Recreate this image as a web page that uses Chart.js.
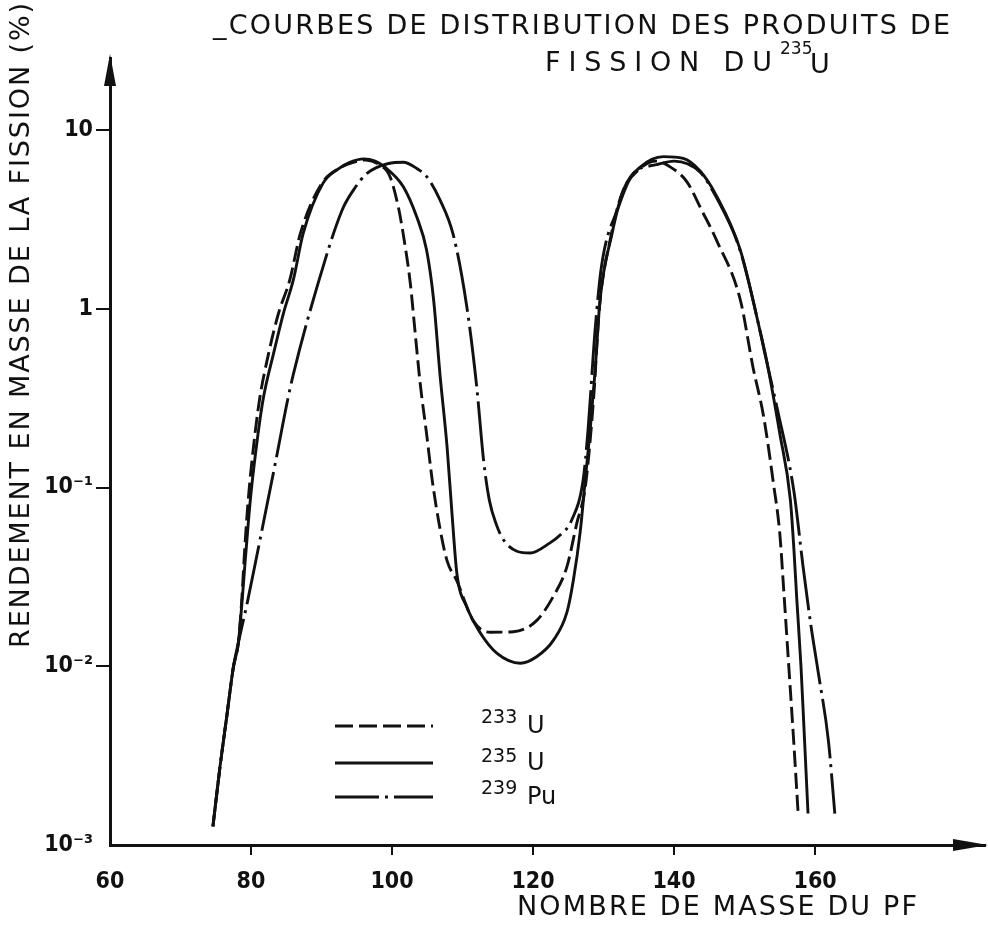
<!DOCTYPE html>
<html>
<head>
<meta charset="utf-8">
<script src="https://cdn.jsdelivr.net/npm/chart.js@4.4.1/dist/chart.umd.min.js"></script>
<style>
  html, body { margin: 0; padding: 0; background: #fff; }
  #wrap { width: 988px; height: 927px; }
</style>
</head>
<body>
<div id="wrap"><canvas id="chart" width="988" height="927"></canvas></div>
<script>
// axis ticks
const massTicks = [60, 80, 100, 120, 140, 160];
const yieldTicks = [0.001, 0.01, 0.1, 1, 10];
const yieldTickLabels = ['10⁻³', '10⁻²', '10⁻¹', '1', '10'];

// legend text
const seriesIsotopes = ['233', '235', '239'];
const seriesElements = ['U', 'U', 'Pu'];

// 233U (dashed)
const u233Mass = [74.6, 75.6, 76.55, 77.5, 78.2, 78.7, 79.1, 79.6, 80.3, 81.2, 82.5, 83.9, 85.5, 87.0, 90.0, 92.8, 94.5, 96.3, 98.2, 99.7,
  100.9, 101.6, 102.6, 103.3, 104.0, 104.9, 105.7, 106.7, 107.8, 109.2, 111.5, 113.9, 117.2, 120.5, 122.9, 124.8, 126.2, 127.4, 128.6, 129.4,
  131.0, 132.6, 135.0, 137.5, 139.5, 141.8, 143.9, 146.0, 149.4, 151.2, 152.7, 154.1, 155.0, 155.6, 156.2, 156.9, 157.6];
const u233Yield = [0.00127, 0.00274, 0.0052, 0.0099, 0.0135, 0.024, 0.045, 0.085, 0.162, 0.309, 0.563, 0.944, 1.45, 2.64, 5.0, 6.2, 6.6, 6.8, 6.4, 5.5,
  3.7, 2.6, 1.38, 0.72, 0.38, 0.20, 0.11, 0.062, 0.039, 0.030, 0.018, 0.0155, 0.0156, 0.018, 0.0247, 0.036, 0.063, 0.10, 0.32, 1.0,
  2.5, 4.4, 6.0, 6.7, 6.2, 5.15, 3.57, 2.43, 1.12, 0.47, 0.25, 0.105, 0.055, 0.025, 0.011, 0.0042, 0.0015];

// 235U (solid)
const u235Mass = [74.6, 75.6, 76.55, 77.5, 78.2, 79.3, 79.9, 80.7, 81.7, 83.2, 84.6, 86.0, 87.4, 90.2, 92.5, 94.0, 96.0, 97.6, 99.0, 101.6,
  103.5, 104.9, 105.9, 106.8, 107.8, 108.5, 109.2, 110.6, 112.5, 114.9, 118.2, 120.5, 122.9, 124.8, 125.7, 126.7, 127.4, 128.1, 128.8, 129.5,
  131.2, 132.8, 135.2, 138.5, 141.3, 143.7, 146.0, 149.4, 152.2, 153.1, 155.0, 156.5, 157.0, 157.4, 158.0, 158.45, 159.0];
const u235Yield = [0.00127, 0.00274, 0.0052, 0.0099, 0.0135, 0.0447, 0.085, 0.162, 0.309, 0.563, 0.944, 1.45, 2.64, 5.03, 6.1, 6.6, 6.9, 6.7, 6.2, 4.82,
  3.27, 2.13, 1.12, 0.43, 0.17, 0.072, 0.033, 0.0215, 0.0154, 0.0118, 0.0104, 0.0113, 0.014, 0.020, 0.030, 0.057, 0.11, 0.21, 0.45, 1.12,
  2.63, 4.6, 6.2, 7.1, 6.95, 5.9, 4.3, 2.13, 0.75, 0.52, 0.20, 0.085, 0.045, 0.024, 0.010, 0.0043, 0.0015];

// 239Pu (dash-dot)
const pu239Mass = [74.6, 75.6, 76.55, 77.5, 78.2, 79.5, 81.0, 82.4, 83.4, 85.2, 86.0, 89.3, 92.9, 94.5, 96.4, 99.5, 101.6, 103.5, 104.9, 106.8,
  108.7, 110.6, 112.0, 113.0, 113.8, 114.8, 115.8, 117.7, 119.6, 122.4, 123.8, 125.5, 127.1, 127.8, 128.8, 129.7, 132.1, 134.2, 137.5, 140.0,
  143.7, 146.0, 149.4, 152.2, 152.8, 154.6, 157.0, 158.3, 159.4, 160.4, 161.9, 162.8];
const pu239Yield = [0.00127, 0.00274, 0.0052, 0.0099, 0.0135, 0.023, 0.045, 0.085, 0.134, 0.31, 0.43, 1.3, 3.55, 4.6, 5.7, 6.5, 6.6, 6.1, 5.5, 4.07,
  2.58, 1.03, 0.37, 0.14, 0.085, 0.062, 0.051, 0.044, 0.043, 0.049, 0.054, 0.066, 0.11, 0.21, 0.76, 1.72, 3.7, 5.7, 6.4, 6.7,
  5.8, 4.2, 2.1, 0.75, 0.58, 0.28, 0.095, 0.036, 0.017, 0.0095, 0.0038, 0.0015];

const INK = '#111';
const FONT = "'DejaVu Sans', sans-serif";
const NUM_FONT = "'DejaVu Sans Condensed', 'DejaVu Sans', sans-serif";

const toPoints = (xs, ys) => xs.map((x, i) => ({ x, y: ys[i] }));

// draw text so that it spans the given width
function fitText(ctx, text, x, y, width, size) {
  ctx.font = `${size}px ${FONT}`;
  ctx.letterSpacing = '0px';
  const natural = ctx.measureText(text).width;
  const spacing = (width - natural) / Math.max(text.length - 1, 1);
  ctx.letterSpacing = spacing + 'px';
  ctx.fillText(text, x, y);
  ctx.letterSpacing = '0px';
}

const decorations = {
  id: 'decorations',
  afterDraw(chart) {
    const ctx = chart.ctx;
    const a = chart.chartArea;
    ctx.save();
    ctx.fillStyle = INK;
    ctx.strokeStyle = INK;

    // arrow heads
    ctx.beginPath();
    ctx.moveTo(a.left, a.top - 4);
    ctx.lineTo(a.left - 6, a.top + 28);
    ctx.lineTo(a.left + 6, a.top + 28);
    ctx.closePath();
    ctx.fill();
    ctx.beginPath();
    ctx.moveTo(a.right + 3, a.bottom);
    ctx.lineTo(a.right - 32, a.bottom - 6);
    ctx.lineTo(a.right - 32, a.bottom + 6);
    ctx.closePath();
    ctx.fill();

    // title
    ctx.textBaseline = 'middle';
    ctx.textAlign = 'left';
    fitText(ctx, '_COURBES DE DISTRIBUTION DES PRODUITS DE', 213, 27, 737, 27);
    fitText(ctx, 'FISSION DU', 545, 64, 227, 27);
    ctx.font = `17px ${FONT}`;
    ctx.fillText('235', 780, 50);
    ctx.font = `27px ${FONT}`;
    ctx.fillText('U', 810, 66);

    // axis titles
    fitText(ctx, 'NOMBRE DE MASSE DU PF', 517, 908, 400, 27);
    ctx.save();
    ctx.translate(22, 648);
    ctx.rotate(-Math.PI / 2);
    fitText(ctx, 'RENDEMENT EN MASSE DE LA FISSION (%)', 0, 0, 645, 27);
    ctx.restore();

    // legend
    const rows = [726, 763, 797];
    const legendDash = [[18, 6], [], [44, 6, 3, 6]];
    chart.data.datasets.forEach((ds, i) => {
      const y = rows[i];
      ctx.beginPath();
      ctx.setLineDash(legendDash[i]);
      ctx.lineWidth = 3;
      ctx.moveTo(335, y);
      ctx.lineTo(433, y);
      ctx.stroke();
      ctx.setLineDash([]);
      ctx.textBaseline = 'alphabetic';
      ctx.font = `19px ${FONT}`;
      ctx.fillText(seriesIsotopes[i], 481, y - (i === 1 ? 1 : 3));
      ctx.font = `24px ${FONT}`;
      ctx.fillText(seriesElements[i], 527, y + 7);
    });
    ctx.restore();
  }
};

const lineBase = {
  borderColor: INK,
  borderWidth: 2.9,
  pointRadius: 0,
  fill: false,
  cubicInterpolationMode: 'monotone',
};

new Chart(document.getElementById('chart'), {
  type: 'line',
  data: {
    datasets: [
      { ...lineBase, label: '233U', data: toPoints(u233Mass, u233Yield), borderDash: [16, 6] },
      { ...lineBase, label: '235U', data: toPoints(u235Mass, u235Yield) },
      { ...lineBase, label: '239Pu', data: toPoints(pu239Mass, pu239Yield), borderDash: [60, 6, 3, 6] },
    ],
  },
  options: {
    responsive: false,
    animation: false,
    layout: { padding: { top: 58, right: 3, left: 0, bottom: 0 } },
    plugins: { legend: { display: false }, tooltip: { enabled: false } },
    scales: {
      x: {
        type: 'linear',
        min: 60,
        max: 184.1,
        afterBuildTicks: s => { s.ticks = massTicks.map(v => ({ value: v })); },
        afterFit: s => { s.height = 82; },
        grid: {
          drawOnChartArea: false,
          tickLength: 10,
          lineWidth: 2,
          color: c => (c.tick && c.tick.value === 60 ? 'rgba(0,0,0,0)' : INK),
        },
        border: { display: true, color: INK, width: 3 },
        ticks: { color: INK, padding: 13, maxRotation: 0, autoSkip: false, font: { family: NUM_FONT, size: 23, weight: 'bold' } },
      },
      y: {
        type: 'logarithmic',
        min: 0.001,
        max: 25.3,
        afterBuildTicks: s => { s.ticks = yieldTicks.map(v => ({ value: v })); },
        afterFit: s => { s.width = 110; },
        grid: {
          drawOnChartArea: false,
          tickLength: 14,
          lineWidth: 2,
          color: c => (c.tick && c.tick.value === 0.001 ? 'rgba(0,0,0,0)' : INK),
        },
        border: { display: true, color: INK, width: 3 },
        ticks: {
          color: INK,
          padding: 3,
          autoSkip: false,
          font: { family: NUM_FONT, size: 23, weight: 'bold' },
          callback: (v, i) => yieldTickLabels[i],
        },
      },
    },
  },
  plugins: [decorations],
});
</script>
</body>
</html>
